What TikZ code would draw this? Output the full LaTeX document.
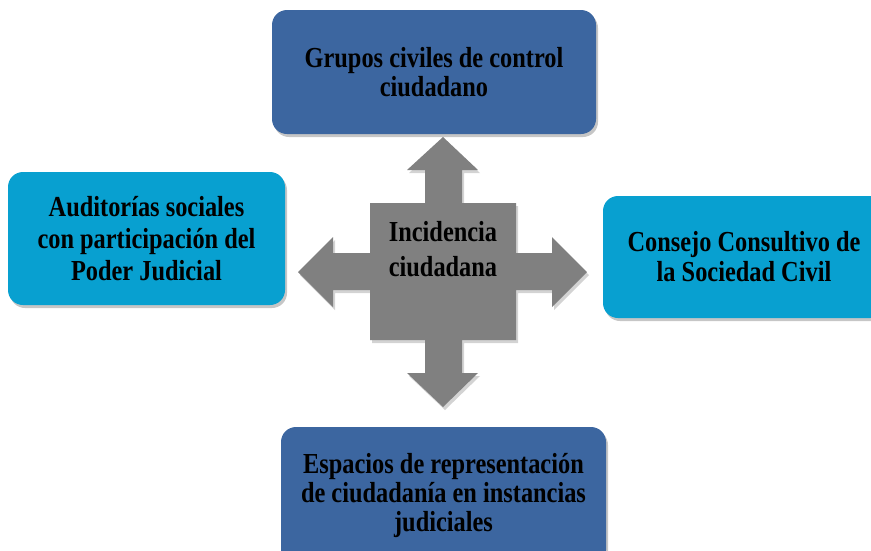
\documentclass[tikz,border=0pt]{standalone}
\usepackage{fontspec}
\setmainfont[FakeStretch=0.84]{Liberation Serif}
\usetikzlibrary{shadows}
\definecolor{darkbox}{RGB}{60,102,160}
\definecolor{lightbox}{RGB}{8,160,208}
\definecolor{crossgray}{RGB}{128,128,128}
\begin{document}
\begin{tikzpicture}[x=1pt,y=-1pt,
  box/.style={rectangle,rounded corners=15pt,align=center,
    font=\bfseries\fontsize{29}{29}\selectfont,
    drop shadow={shadow xshift=2pt,shadow yshift=-3pt,opacity=0.45}},
  darkb/.style={box,fill=darkbox},
  lightb/.style={box,fill=lightbox}
]
\useasboundingbox (0,0) rectangle (871,550);
% four boxes
\node[darkb,minimum width=324pt,minimum height=124pt] (grupos) at (434,72)
  {Grupos civiles de control\\ciudadano};
\node[lightb,minimum width=277pt,minimum height=133pt,
  font=\bfseries\fontsize{29}{32}\selectfont] (audit) at (146.5,238.5)
  {Auditorías sociales\\con participación del\\Poder Judicial};
\node[lightb,minimum width=282pt,minimum height=122pt,
  font=\bfseries\fontsize{29}{30}\selectfont] (consejo) at (744,257)
  {Consejo Consultivo de\\la Sociedad Civil};
\node[darkb,minimum width=325pt,minimum height=138pt] (espacios) at (443.5,496)
  {Espacios de representación\\de ciudadanía en instancias\\judiciales};
% center cross with four arrows
\fill[crossgray,drop shadow={shadow xshift=2pt,shadow yshift=-3pt,opacity=0.35}]
  (443,137) -- (478,170) -- (462,170) -- (462,203) -- (516,203) -- (516,253)
  -- (552,253) -- (552,237) -- (587,272) -- (552,307) -- (552,290) -- (516,290)
  -- (516,340) -- (462,340) -- (462,373) -- (478,373) -- (443,407) -- (407,373)
  -- (425,373) -- (425,340) -- (370,340) -- (370,290) -- (333,290) -- (333,307)
  -- (298,272) -- (333,237) -- (333,253) -- (370,253) -- (370,203) -- (425,203)
  -- (425,170) -- (407,170) -- cycle;
\node[align=center,font=\bfseries\fontsize{29}{35}\selectfont] (inc) at (443,249)
  {Incidencia\\ciudadana};
\end{tikzpicture}
\end{document}
